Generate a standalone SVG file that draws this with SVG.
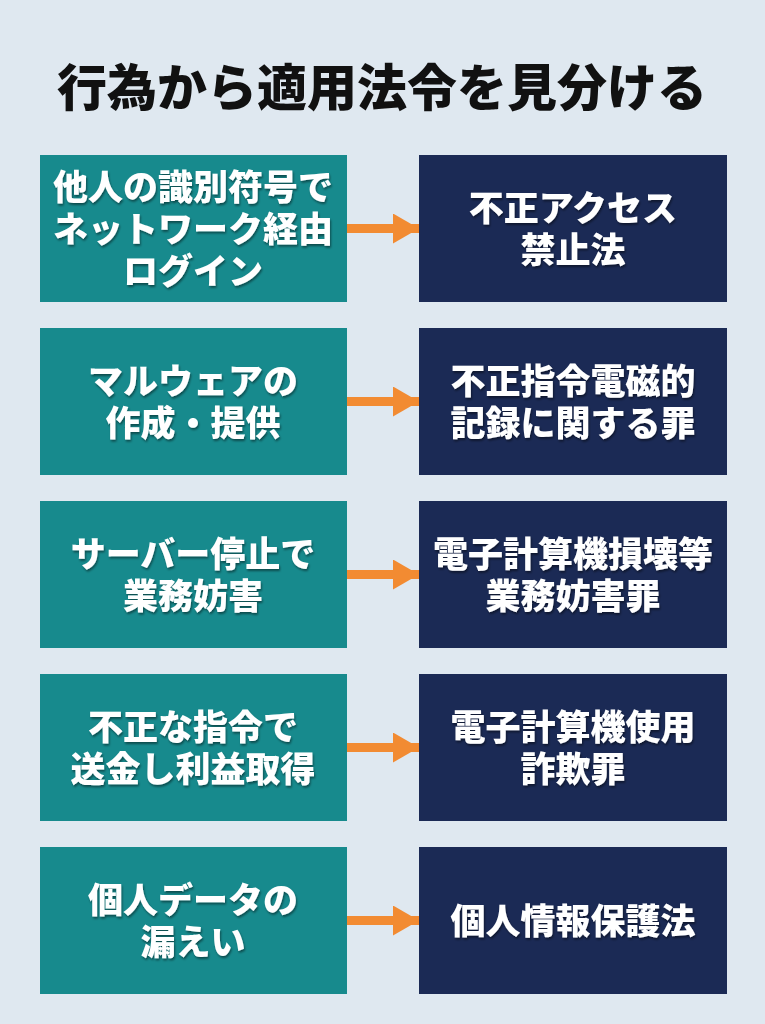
<svg xmlns="http://www.w3.org/2000/svg" width="765" height="1024" viewBox="0 0 765 1024">
<defs>
<filter id="sh" x="-10%" y="-10%" width="120%" height="130%"><feDropShadow dx="1" dy="2" stdDeviation="1.2" flood-color="#000" flood-opacity="0.45"/></filter>
<marker id="ah" markerWidth="26" markerHeight="30" refX="26" refY="15" orient="auto" markerUnits="userSpaceOnUse"><path d="M0,0 L26,15 L0,30 Z" fill="#f28b32"/></marker>
</defs>
<style>
.t{font-family:"Noto Sans CJK JP","Noto Sans CJK SC",sans-serif;font-weight:900;fill:#fff;font-size:35px;text-anchor:middle}
.title{font-family:"Noto Sans CJK JP","Noto Sans CJK SC",sans-serif;font-weight:900;fill:#111;font-size:50px;text-anchor:middle}
.l{fill:#178a8d}
.r{fill:#1b2a55}
.c{stroke:#f28b32;stroke-width:9;fill:none}
</style>
<rect width="765" height="1024" fill="#dfe8f0"/>
<text class="title" x="382" y="106">行為から適用法令を見分ける</text>
<g id="connectors">
<line class="c" x1="347" y1="228.5" x2="419" y2="228.5" marker-end="url(#ah)"/>
<line class="c" x1="347" y1="401.5" x2="419" y2="401.5" marker-end="url(#ah)"/>
<line class="c" x1="347" y1="574.5" x2="419" y2="574.5" marker-end="url(#ah)"/>
<line class="c" x1="347" y1="747.5" x2="419" y2="747.5" marker-end="url(#ah)"/>
<line class="c" x1="347" y1="920.5" x2="419" y2="920.5" marker-end="url(#ah)"/>
</g>
<g id="a1"><rect class="l" x="40" y="155" width="307" height="147"/><g filter="url(#sh)"><text class="t" x="193" y="200">他人の識別符号で</text><text class="t" x="193" y="242">ネットワーク経由</text><text class="t" x="193" y="284">ログイン</text></g></g>
<g id="b1"><rect class="r" x="419" y="155" width="308" height="147"/><g filter="url(#sh)"><text class="t" x="573" y="221">不正アクセス</text><text class="t" x="573" y="263">禁止法</text></g></g>
<g id="a2"><rect class="l" x="40" y="328" width="307" height="147"/><g filter="url(#sh)"><text class="t" x="193" y="394">マルウェアの</text><text class="t" x="193" y="436">作成・提供</text></g></g>
<g id="b2"><rect class="r" x="419" y="328" width="308" height="147"/><g filter="url(#sh)"><text class="t" x="573" y="394">不正指令電磁的</text><text class="t" x="573" y="436">記録に関する罪</text></g></g>
<g id="a3"><rect class="l" x="40" y="501" width="307" height="147"/><g filter="url(#sh)"><text class="t" x="193" y="567">サーバー停止で</text><text class="t" x="193" y="609">業務妨害</text></g></g>
<g id="b3"><rect class="r" x="419" y="501" width="308" height="147"/><g filter="url(#sh)"><text class="t" x="573" y="567">電子計算機損壊等</text><text class="t" x="573" y="609">業務妨害罪</text></g></g>
<g id="a4"><rect class="l" x="40" y="674" width="307" height="147"/><g filter="url(#sh)"><text class="t" x="193" y="740">不正な指令で</text><text class="t" x="193" y="782">送金し利益取得</text></g></g>
<g id="b4"><rect class="r" x="419" y="674" width="308" height="147"/><g filter="url(#sh)"><text class="t" x="573" y="740">電子計算機使用</text><text class="t" x="573" y="782">詐欺罪</text></g></g>
<g id="a5"><rect class="l" x="40" y="847" width="307" height="147"/><g filter="url(#sh)"><text class="t" x="193" y="913">個人データの</text><text class="t" x="193" y="955">漏えい</text></g></g>
<g id="b5"><rect class="r" x="419" y="847" width="308" height="147"/><g filter="url(#sh)"><text class="t" x="573" y="934">個人情報保護法</text></g></g>
</svg>
